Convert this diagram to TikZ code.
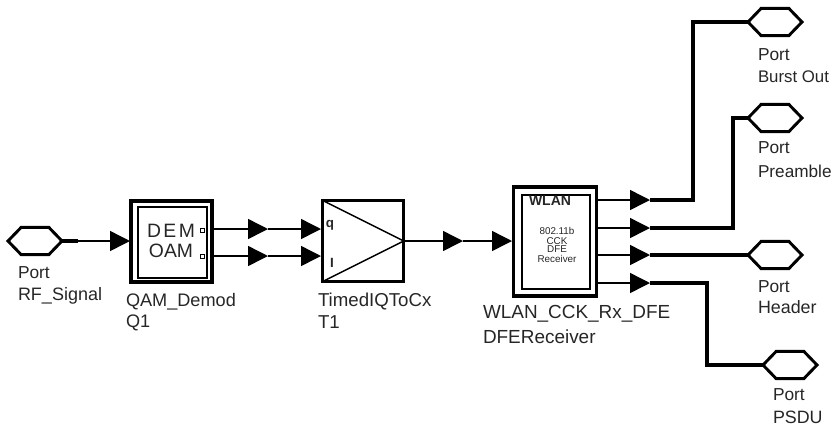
\documentclass[tikz,border=0pt]{standalone}
\usepackage{fontspec}
\setmainfont{Liberation Sans}
\usetikzlibrary{arrows.meta,shapes.symbols}
\tikzset{
  x=0.75pt,y=-0.75pt,
  portshape/.style={signal,signal to=east and west,signal pointer angle=92,draw=black,line width=2.2pt,
    minimum width=40.5pt,minimum height=20.5pt,inner sep=0pt,outer sep=0pt},
  blockouter/.style={draw=black,line width=2.6pt,rectangle,inner sep=0pt,outer sep=0pt},
  blockinner/.style={draw=black,line width=1.1pt,rectangle,inner sep=0pt,outer sep=0pt},
  thinwire/.style={line width=1.1pt,draw=black},
  thickwire/.style={line width=2.3pt,draw=black,line join=miter},
  tipwire/.style={thinwire,-{Triangle[length=15pt,width=15pt,sep=0pt]},shorten >=0pt},
  lab/.style={anchor=base west,inner sep=0pt,outer sep=0pt,font=\fontsize{#1}{14pt}\selectfont,text=black!85},
  lab/.default={13pt},
  blocktext/.style={anchor=center,inner sep=0pt,outer sep=0pt,text=black!85},
  pintext/.style={blocktext,font=\fontsize{10pt}{12pt}\selectfont\bfseries},
  pinbox/.style={draw=black,line width=0.8pt,minimum size=3.5pt,inner sep=0pt,outer sep=0pt,rectangle}
}
\begin{document}
\begin{tikzpicture}
\useasboundingbox (0,0) rectangle (835,430);
% ports
\node[portshape] (pRF) at (35,241) {};
\node[portshape] (pBurst) at (775,22) {};
\node[portshape] (pPre) at (775,118) {};
\node[portshape] (pHead) at (775,255) {};
\node[portshape] (pPSDU) at (790,365) {};
% blocks
\node[blockouter,minimum width=61pt,minimum height=61pt] (qam) at (171.5,241.5) {};
\node[blockinner,minimum width=52pt,minimum height=53pt] (qamin) at (172.5,242.5) {};
\node[blockouter,minimum width=61pt,minimum height=61pt] (t1) at (363,241) {};
\node[blockouter,minimum width=62pt,minimum height=82pt] (dfe) at (555,241.5) {};
\node[blockinner,minimum width=51pt,minimum height=70.5pt] (dfein) at (556,242) {};
% block contents
\node[blocktext,font=\fontsize{14.5pt}{14pt}\selectfont,text width=36pt,align=center] (dem) at (171,231) {D\hfill E\hfill M};
\node[blocktext,font=\fontsize{14.5pt}{14pt}\selectfont] (oam) at (171,251) {OAM};
\node[pinbox] (q1a) at (202.5,230.5) {};
\node[pinbox] (q1b) at (202.5,256.5) {};
\draw[line width=1.1pt] (t1.north west) -- (t1.east) -- (t1.south west);
\node[pintext] (qlab) at (330,225) {q};
\node[pintext] (ilab) at (332,263) {I};
\node[blocktext,font=\fontsize{10.5pt}{11pt}\selectfont\bfseries] (wl) at (550,201) {WLAN};
\node[blocktext,font=\fontsize{7.4pt}{7.2pt}\selectfont,align=center] (dfetxt) at (557,245) {802.11b\\[-0.2pt]CCK\\[-0.8pt]DFE\\[0.2pt]Receiver};
% waypoints
\coordinate (a1) at (130,241);
\coordinate (qo1) at (213,229); \coordinate (qo2) at (213,256);
\coordinate (a2) at (268,229); \coordinate (a3) at (268,256);
\coordinate (a4) at (321,229); \coordinate (a5) at (321,256);
\coordinate (a6) at (463,241); \coordinate (a7) at (512,241);
\coordinate (o1s) at (597,200); \coordinate (o2s) at (597,228);
\coordinate (o3s) at (597,255); \coordinate (o4s) at (597,283);
\coordinate (o1) at (650,200); \coordinate (o2) at (650,228);
\coordinate (o3) at (650,255); \coordinate (o4) at (650,283);
\coordinate (rfk) at (78,241);
% connectors
\draw[thickwire] (pRF.east) -- (rfk);
\draw[tipwire] (rfk) -- (a1);
\draw[tipwire] (qo1) -- (a2);
\draw[tipwire] (qo2) -- (a3);
\draw[tipwire] (a2) -- (a4);
\draw[tipwire] (a3) -- (a5);
\draw[tipwire] (t1.east) -- (a6);
\draw[tipwire] (a6) -- (a7);
\draw[tipwire] (o1s) -- (o1);
\draw[tipwire] (o2s) -- (o2);
\draw[tipwire] (o3s) -- (o3);
\draw[tipwire] (o4s) -- (o4);
\draw[thickwire] (o1) -- (693,200) -- (693,22) -- (pBurst.west);
\draw[thickwire] (o2) -- (733,228) -- (733,118) -- (pPre.west);
\draw[thickwire] (o3) -- (pHead.west);
\draw[thickwire] (o4) -- (707,283) -- (707,365) -- (pPSDU.west);
% labels
\node[lab] (l1) at (18,278) {Port};
\node[lab=13.5pt] (l2) at (18,300) {RF\_Signal};
\node[lab=13.6pt] (l3) at (126,306) {QAM\_Demod};
\node[lab=13.6pt] (l4) at (126,327) {Q1};
\node[lab=14pt] (l5) at (318,306) {TimedIQToCx};
\node[lab=14pt] (l6) at (318,328) {T1};
\node[lab=14.2pt] (l7) at (483,318) {WLAN\_CCK\_Rx\_DFE};
\node[lab=14.2pt] (l8) at (483,343) {DFEReceiver};
\node[lab] (l9) at (758,60) {Port};
\node[lab=12.6pt] (l10) at (758,82) {Burst Out};
\node[lab] (l11) at (758,153) {Port};
\node[lab=12.9pt] (l12) at (758,177) {Preamble};
\node[lab] (l13) at (758,292) {Port};
\node[lab=13.4pt] (l14) at (758,313) {Header};
\node[lab] (l15) at (773,400) {Port};
\node[lab=13.4pt] (l16) at (773,423) {PSDU};
\end{tikzpicture}
\end{document}
